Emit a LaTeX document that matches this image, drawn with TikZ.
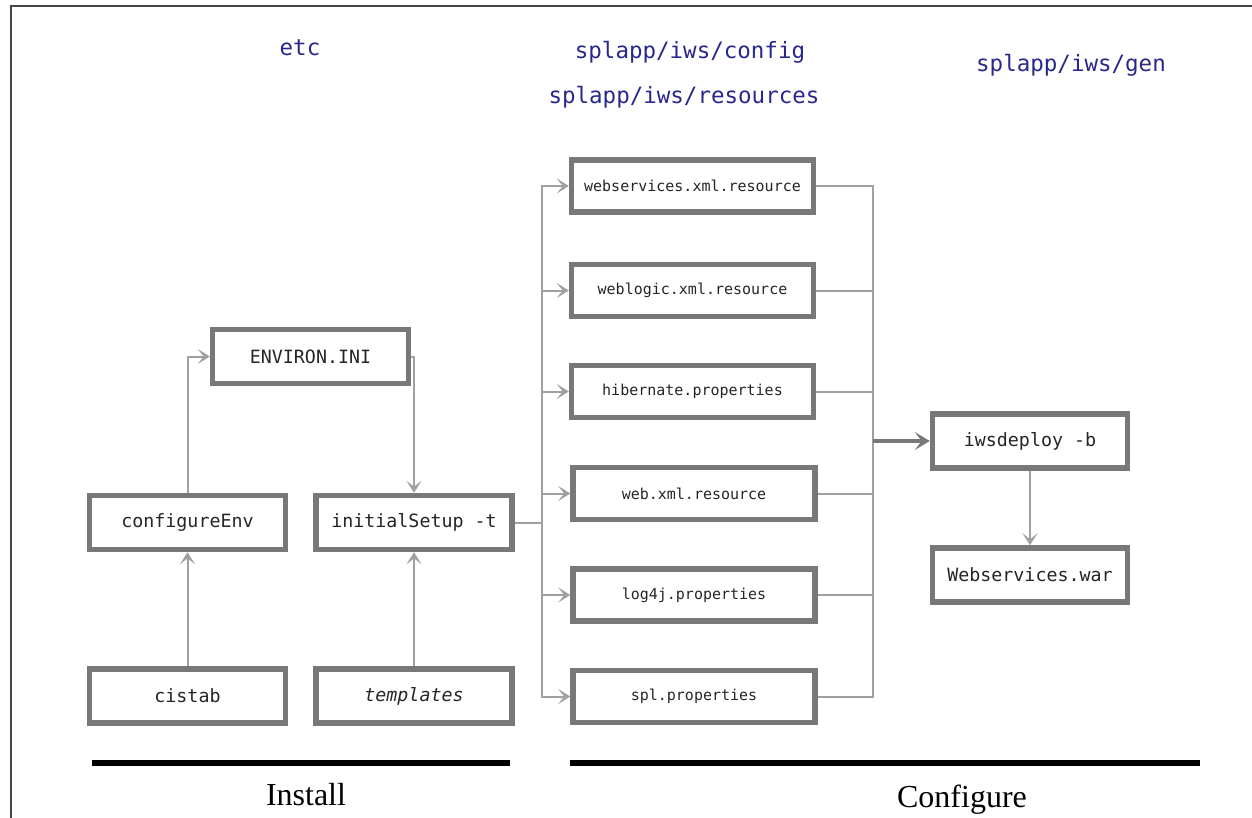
\documentclass[tikz,border=0pt]{standalone}
\usepackage{fontspec}
\setmainfont{Liberation Serif}
\setmonofont{DejaVu Sans Mono}
\usetikzlibrary{arrows.meta}
\definecolor{boxgray}{RGB}{120,120,120}
\definecolor{linegray}{RGB}{160,160,160}
\definecolor{titleblue}{RGB}{40,40,140}
\definecolor{framegray}{RGB}{70,70,70}
\begin{document}
\begin{tikzpicture}[x=1pt,y=-1pt,
  box/.style={draw=boxgray, line width=5.5pt, fill=white, inner sep=0pt, text=black!85,
    font=\ttfamily\fontsize{18.3}{20}\selectfont},
  lbox/.style={box, minimum width=196pt, minimum height=54pt},
  rbox/.style={box, minimum width=242pt, minimum height=52pt,
    font=\ttfamily\fontsize{15}{17}\selectfont},
  conn/.style={draw=linegray, line width=2pt},
  arr/.style={conn, -{Stealth[length=12pt,width=15pt,inset=6pt]}},
  bigarr/.style={draw=boxgray, line width=4pt, -{Stealth[length=15pt,width=18pt,inset=7pt]}},
  title/.style={text=titleblue, font=\ttfamily\fontsize{22.5}{25}\selectfont},
  phase/.style={font=\fontsize{32}{34}\selectfont},
  bar/.style={line width=6pt, black}]
\useasboundingbox (0,0) rectangle (1252,818);
\fill[white] (0,0) rectangle (1252,818);
\draw[line width=2pt, framegray] (11,818) -- (11,6) -- (1252,6);

% titles
\node[title] (t1) at (300,48) {etc};
\node[title] (t2) at (690,52) {splapp/iws/config};
\node[title] (t3) at (684,97) {splapp/iws/resources};
\node[title] (t4) at (1071,65) {splapp/iws/gen};

% install boxes
\node[lbox] (env) at (310.5,356.5) {ENVIRON.INI};
\node[lbox] (cfg) at (187.5,522.5) {configureEnv};
\node[lbox] (init) at (414,522.5) {initialSetup -t};
\node[lbox] (cis) at (187.5,696) {cistab};
\node[lbox] (tpl) at (414,696) {\itshape templates};

% configure boxes
\node[rbox] (ws) at (692.5,186) {webservices.xml.resource};
\node[rbox] (wl) at (692.5,290.5) {weblogic.xml.resource};
\node[rbox] (hib) at (692.5,391.5) {hibernate.properties};
\node[rbox] (web) at (694,493.5) {web.xml.resource};
\node[rbox] (log) at (694,595) {log4j.properties};
\node[rbox] (spl) at (694,696.5) {spl.properties};

\node[lbox, minimum width=195pt] (iws) at (1030,441) {iwsdeploy -b};
\node[lbox, minimum width=195pt] (war) at (1030,575) {Webservices.war};

% install connectors
\draw[arr] (cfg.north) |- (env.west);
\draw[arr] (env.east) -| (init.north);
\draw[arr] (cis) -- (cfg);
\draw[arr] (tpl) -- (init);

% left bus
\coordinate (lb) at (542,522.5);
\draw[conn] (init.east) -- (lb);
\foreach \n in {ws,wl,hib,web,log,spl}{
  \draw[arr] (lb) |- (\n.west);
}
% right bus
\coordinate (rb) at (873,441);
\foreach \n in {ws,wl,hib,web,log,spl}{
  \draw[conn] (\n.east) -| (rb);
}
\draw[bigarr] (rb) -- (iws.west);
\draw[arr] (iws) -- (war);

% phase bars
\draw[bar] (92,763) -- (510,763);
\draw[bar] (570,763) -- (1200,763);
\node[phase] (inst) at (306,795) {Install};
\node[phase] (conf) at (962,800) {Configure};
\end{tikzpicture}
\end{document}
